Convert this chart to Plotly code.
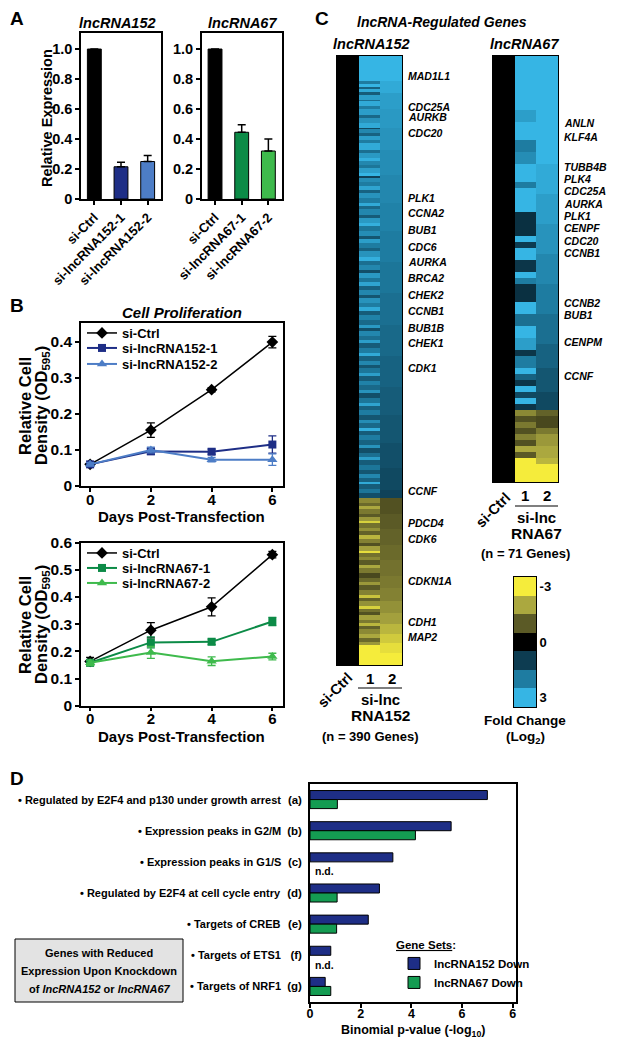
import plotly.graph_objects as go

# page body has an 8px margin, so the figure is 16px smaller than the window
PAD = 8
FW, FH = 608, 1032
FONT = "Liberation Sans, Arial, sans-serif"

# ---------------- data ----------------
a152_groups = ["si-Ctrl", "si-lncRNA152-1", "si-lncRNA152-2"]
a152_vals = [1.0, 0.215, 0.25]
a152_err = [0, 0.03, 0.04]
a67_groups = ["si-Ctrl", "si-lncRNA67-1", "si-lncRNA67-2"]
a67_vals = [1.0, 0.445, 0.32]
a67_err = [0, 0.05, 0.08]

days = [0, 2, 4, 6]
b152_ctrl = [0.06, 0.155, 0.267, 0.399]
b152_ctrl_err = [0.005, 0.02, 0.006, 0.016]
b152_1 = [0.06, 0.096, 0.095, 0.115]
b152_1_err = [0.005, 0.008, 0.007, 0.024]
b152_2 = [0.06, 0.10, 0.073, 0.073]
b152_2_err = [0.005, 0.008, 0.006, 0.016]

b67_ctrl = [0.163, 0.278, 0.364, 0.556]
b67_ctrl_err = [0.015, 0.028, 0.033, 0.012]
b67_1 = [0.158, 0.233, 0.235, 0.31]
b67_1_err = [0.01, 0.02, 0.01, 0.015]
b67_2 = [0.158, 0.196, 0.164, 0.181]
b67_2_err = [0.01, 0.022, 0.016, 0.012]

d_labels = ["\u2022 Regulated by E2F4 and p130 under growth arrest",
            "\u2022 Expression peaks in G2/M",
            "\u2022 Expression peaks in G1/S",
            "\u2022 Regulated by E2F4 at cell cycle entry",
            "\u2022 Targets of CREB",
            "\u2022 Targets of ETS1",
            "\u2022 Targets of NRF1"]
d_letters = ["(a)", "(b)", "(c)", "(d)", "(e)", "(f)", "(g)"]
d_152 = [7.0, 5.57, 3.27, 2.74, 2.3, 0.82, 0.6]
d_67 = [1.08, 4.16, None, 1.07, 1.05, None, 0.82]
d_ticks = [0, 2, 4, 6, 8]
d_ticktext = ["0", "2", "4", "6", "6"]

# heatmaps: log2 fold change, run-length (value, n genes), top to bottom
ctrl_fc = 0.0
l152_col1 = [(3.0, 16),
             (2.0, 2), (3.0, 2), (1.6, 1), (2.8, 2), (1.5, 2), (2.6, 3), (1.8, 1), (2.8, 3), (2.0, 2), (2.6, 4),
             (1.7, 2), (2.4, 3), (2.8, 3), (1.2, 1), (2.2, 2), (1.6, 2), (2.6, 3), (2.0, 2), (2.8, 4), (1.8, 2),
             (2.5, 3), (2.9, 2), (2.2, 3), (1.9, 2), (2.6, 3), (3.0, 2), (1.1, 1), (2.3, 3), (2.0, 2), (2.7, 3),
             (1.6, 2), (2.4, 3), (2.0, 3), (2.8, 2), (1.7, 2), (2.2, 4), (1.5, 2), (2.5, 3), (2.9, 2), (1.9, 3),
             (2.3, 3), (1.4, 2), (2.6, 3), (2.0, 3), (1.6, 2), (2.4, 4), (2.9, 2), (1.8, 3), (2.2, 3), (1.3, 2),
             (2.5, 3), (1.9, 3), (2.7, 2), (1.6, 3), (2.2, 3), (1.4, 2), (2.4, 3), (2.0, 3), (2.8, 2), (1.5, 3),
             (2.1, 3), (1.7, 3), (2.5, 2), (1.3, 2), (2.2, 3), (1.8, 3), (2.6, 2), (1.5, 3), (2.0, 3), (2.8, 2),
             (1.6, 3), (2.2, 3), (1.4, 2), (1.9, 3), (2.6, 2), (1.5, 3), (2.1, 3), (1.7, 3), (2.4, 2), (1.3, 3),
             (1.9, 3), (2.7, 2), (1.6, 3), (2.0, 3), (1.4, 3), (2.3, 2), (1.7, 3), (2.9, 2), (1.5, 3), (2.0, 3),
             (1.6, 3), (2.4, 2), (1.3, 3), (1.8, 3), (2.6, 2), (1.5, 3), (1.9, 3), (1.4, 3), (2.2, 2), (1.6, 3),
             (2.8, 1), (1.5, 3), (1.9, 3), (1.3, 3),
             (-1.6, 3), (-1.2, 2), (-2.0, 2), (-1.4, 3), (-1.0, 2), (-1.8, 3), (-2.6, 1), (-1.3, 3), (-1.7, 2), (-1.1, 3),
             (-2.2, 2), (-1.5, 3), (-0.9, 2), (-1.9, 3), (-2.8, 1), (-1.3, 3), (-1.6, 2), (-1.0, 3), (-2.0, 2), (-1.4, 3),
             (-0.8, 3), (-1.2, 3), (-1.8, 2), (-1.0, 3), (-1.5, 3), (-2.4, 2), (-1.1, 2), (-1.7, 3), (-2.6, 2), (-1.3, 2),
             (-0.9, 2), (-1.9, 3), (-1.4, 2), (-2.2, 2), (-1.1, 2), (-1.6, 3), (-2.0, 3), (-1.2, 2), (-1.8, 2),
             (-3.0, 13)]
l152_col2 = [(3.0, 16), (2.8, 8), (2.6, 10), (2.5, 12), (2.4, 14), (2.3, 16), (2.2, 18), (2.1, 18), (2.0, 20),
             (1.9, 20), (1.8, 20), (1.7, 20), (1.6, 20), (1.5, 18), (1.4, 18), (1.3, 16), (1.2, 14), (1.1, 5),
             (-0.9, 10), (-1.0, 10), (-1.1, 10), (-1.2, 10), (-1.3, 10), (-1.4, 8), (-1.5, 8), (-1.7, 8),
             (-1.9, 7), (-2.2, 6), (-2.5, 6), (-2.8, 6), (-3.0, 8)]
l67_col1 = [(3.0, 9), (2.6, 2), (3.0, 3), (2.0, 2), (2.3, 2), (3.0, 3), (2.0, 1), (3.0, 4), (0.8, 4), (3.0, 1),
            (1.0, 1), (3.0, 2), (0.9, 2), (3.0, 1), (2.0, 1), (0.8, 3), (3.0, 2), (1.8, 2), (3.0, 2), (2.6, 2),
            (0.9, 1), (2.0, 2), (3.0, 1), (1.6, 1), (0.9, 1), (3.0, 1), (1.2, 1), (3.0, 1), (0.9, 1),
            (-1.6, 1), (-0.9, 1), (-1.4, 1), (-0.9, 1), (-1.5, 1), (-0.9, 1), (-2.0, 1), (-1.0, 1), (-3.0, 4)]
l67_col2 = [(3.0, 18), (2.8, 5), (2.6, 5), (2.4, 5), (2.2, 5), (2.0, 5), (1.8, 5), (1.6, 4), (1.4, 4), (1.2, 3),
            (-1.1, 1), (-0.8, 2), (-1.4, 1), (-1.8, 2), (-2.0, 2), (-2.2, 1), (-3.0, 3)]
scale_vals = [-3, -2, -1, 0, 1, 2, 3]

l152_genes = ["MAD1L1", "CDC25A", "AURKB", "CDC20", "PLK1", "CCNA2", "BUB1", "CDC6", "AURKA", "BRCA2",
              "CHEK2", "CCNB1", "BUB1B", "CHEK1", "CDK1", "CCNF", "PDCD4", "CDK6", "CDKN1A", "CDH1", "MAP2"]
l152_gene_y = [76, 107, 117, 133, 198, 213, 230, 247, 262, 278, 295, 311, 328, 343, 368, 491, 523, 539, 581, 622, 637]
l67_genes = ["ANLN", "KLF4A", "TUBB4B", "PLK4", "CDC25A", "AURKA", "PLK1", "CENPF", "CDC20", "CCNB1",
             "CCNB2", "BUB1", "CENPM", "CCNF"]
l67_gene_y = [123, 137, 167, 179, 191.5, 204, 216, 228, 241, 253, 303, 315, 342, 376]


def expand(runs):
    out = []
    for v, n in runs:
        out += [v] * n
    return out


c1, c2 = expand(l152_col1), expand(l152_col2)
zL = [[ctrl_fc, a, b] for a, b in zip(c1, c2)]
r1, r2 = expand(l67_col1), expand(l67_col2)
zR = [[ctrl_fc, a, b] for a, b in zip(r1, r2)]

CS = [[0.0, "#f5ec3b"], [1 / 6, "#aba83f"], [2 / 6, "#5b5a26"], [0.5, "#000000"],
      [4 / 6, "#0d3c51"], [5 / 6, "#1e7ca1"], [1.0, "#36b5e4"]]

NAVY, LBLUE = "#1e2e86", "#4d7dc6"
DGREEN, LGREEN = "#0c8b47", "#3eba4c"


# positions below are given in window pixels
def X(px):
    return (px - PAD) / FW


def Y(py):
    return 1 - (py - PAD) / FH


fig = go.Figure()

# ---- A ----
for ax, groups, vals, err, cols in [("", a152_groups, a152_vals, a152_err, ["black", NAVY, LBLUE]),
                                    ("2", a67_groups, a67_vals, a67_err, ["black", DGREEN, LGREEN])]:
    fig.add_trace(go.Bar(x=groups, y=vals, width=0.52, offset=-0.26,
                         marker=dict(color=cols, line=dict(color="black", width=1)),
                         error_y=dict(type="data", array=err, arrayminus=[0] * 3, symmetric=False,
                                      color="black", thickness=1.5, width=4),
                         xaxis="x" + ax, yaxis="y" + ax, showlegend=False))

# ---- B ---- (one legend per entry so the rows can sit as tight as in the figure)
b_sets = [("3", [("si-Ctrl", b152_ctrl, b152_ctrl_err, "black", "diamond", 9, 1.5, "legend", 333),
                 ("si-lncRNA152-1", b152_1, b152_1_err, NAVY, "square", 8, 2, "legend4", 348),
                 ("si-lncRNA152-2", b152_2, b152_2_err, LBLUE, "triangle-up", 9, 2, "legend5", 364)]),
          ("4", [("si-Ctrl", b67_ctrl, b67_ctrl_err, "black", "diamond", 9, 1.5, "legend2", 553),
                 ("si-lncRNA67-1", b67_1, b67_1_err, DGREEN, "square", 8, 2, "legend6", 568),
                 ("si-lncRNA67-2", b67_2, b67_2_err, LGREEN, "triangle-up", 9, 2, "legend7", 583)])]
legends = {}
for ax, series in b_sets:
    for name, ys, es, col, sym, ms, lw, lg, ly in series:
        fig.add_trace(go.Scatter(x=days, y=ys, mode="lines+markers", name=name,
                                 line=dict(color=col, width=lw),
                                 marker=dict(symbol=sym, size=ms, color=col),
                                 error_y=dict(type="data", array=es, color=col, thickness=1.3, width=4),
                                 xaxis="x" + ax, yaxis="y" + ax, legend=lg))
        legends[lg] = ly

# ---- D ----
rows = list(range(len(d_labels)))
fig.add_trace(go.Bar(y=rows, x=d_152, orientation="h", width=0.29, offset=-0.29, name="lncRNA152 Down",
                     marker=dict(color=NAVY, line=dict(color="black", width=1)),
                     xaxis="x5", yaxis="y5", legend="legend3"))
fig.add_trace(go.Bar(y=rows, x=d_67, orientation="h", width=0.29, offset=0.0, name="lncRNA67 Down",
                     marker=dict(color="#149c52", line=dict(color="black", width=1)),
                     xaxis="x5", yaxis="y5", legend="legend3"))

# ---- C heatmaps ----
fig.add_trace(go.Heatmap(z=zL, x=[0, 1, 2], y=list(range(len(zL))), colorscale=CS, zmin=-3, zmax=3,
                         showscale=False, xaxis="x6", yaxis="y6", hoverinfo="skip"))
fig.add_trace(go.Heatmap(z=zR, x=[0, 1, 2], y=list(range(len(zR))), colorscale=CS, zmin=-3, zmax=3,
                         showscale=False, xaxis="x7", yaxis="y7", hoverinfo="skip"))
fig.add_trace(go.Heatmap(z=[[v] for v in scale_vals], x=[0], y=list(range(len(scale_vals))), colorscale=CS,
                         zmin=-3, zmax=3, showscale=False, xaxis="x8", yaxis="y8", hoverinfo="skip"))

box = dict(showline=True, linecolor="black", linewidth=1.5, mirror=True, showgrid=False, zeroline=False,
           ticks="outside", ticklen=4, tickwidth=1.5, tickcolor="black", automargin=False)


def tf(size):
    return dict(family=FONT, size=size, color="black", weight="bold")


plain = dict(showline=True, linecolor="black", linewidth=1, mirror=True, showgrid=False, zeroline=False,
             ticks="", showticklabels=False, automargin=False)

layout = dict(
    template="none",
    width=FW, height=FH, margin=dict(l=0, r=0, t=0, b=0, autoexpand=False),
    paper_bgcolor="white", plot_bgcolor="white",
    font=dict(family=FONT, size=12, color="black", weight="bold"), barmode="overlay",
    xaxis=dict(box, domain=[X(81), X(161)], anchor="y", tickangle=-45, tickfont=tf(13), range=[-0.5, 2.5]),
    yaxis=dict(box, domain=[Y(199), Y(33)], anchor="x", range=[0, 1.107], tickvals=[0, 0.2, 0.4, 0.6, 0.8, 1.0],
               ticktext=["0", "0.2", "0.4", "0.6", "0.8", "1.0"], tickfont=tf(14.5)),
    xaxis2=dict(box, domain=[X(201.7), X(281.7)], anchor="y2", tickangle=-45, tickfont=tf(13), range=[-0.5, 2.5]),
    yaxis2=dict(box, domain=[Y(199), Y(33)], anchor="x2", range=[0, 1.107], tickvals=[0, 0.2, 0.4, 0.6, 0.8, 1.0],
                ticktext=["0", "0.2", "0.4", "0.6", "0.8", "1.0"], tickfont=tf(14.5)),
    xaxis3=dict(box, domain=[X(81), X(283)], anchor="y3", range=[-0.3, 6.35], tickvals=days, tickfont=tf(15),
                ticklabelstandoff=-5),
    yaxis3=dict(box, domain=[Y(486), Y(323)], anchor="x3", range=[0, 0.452], tickvals=[0, 0.1, 0.2, 0.3, 0.4],
                ticktext=["0", "0.1", "0.2", "0.3", "0.4"], tickfont=tf(15.5)),
    xaxis4=dict(box, domain=[X(81), X(283)], anchor="y4", range=[-0.3, 6.35], tickvals=days, tickfont=tf(15),
                ticklabelstandoff=-5),
    yaxis4=dict(box, domain=[Y(705.7), Y(542.7)], anchor="x4", range=[0, 0.6],
                tickvals=[0, 0.1, 0.2, 0.3, 0.4, 0.5, 0.6],
                ticktext=["0", "0.1", "0.2", "0.3", "0.4", "0.5", "0.6"], tickfont=tf(15.5)),
    xaxis5=dict(box, domain=[X(310), X(516)], anchor="y5", range=[0, 8.13], tickvals=d_ticks,
                ticktext=d_ticktext, tickfont=tf(12.5), ticklabelstandoff=-5),
    yaxis5=dict(box, domain=[Y(1002), Y(784)], anchor="x5", range=[6.5, -0.5], tickvals=rows,
                ticktext=d_letters, ticks="", tickfont=tf(11.5), ticklabelstandoff=4),
    xaxis6=dict(plain, domain=[X(337), X(402)], anchor="y6", range=[-0.5, 2.5]),
    yaxis6=dict(plain, domain=[Y(665), Y(56)], anchor="x6", range=[len(zL) - 0.5, -0.5]),
    xaxis7=dict(plain, domain=[X(493), X(558)], anchor="y7", range=[-0.5, 2.5]),
    yaxis7=dict(plain, domain=[Y(482), Y(56)], anchor="x7", range=[len(zR) - 0.5, -0.5]),
    xaxis8=dict(plain, domain=[X(514), X(536)], anchor="y8", range=[-0.5, 0.5]),
    yaxis8=dict(plain, domain=[Y(707), Y(577)], anchor="x8", range=[6.5, -0.5], side="right",
                showticklabels=True, tickvals=[0, 3, 6], ticktext=["-3", "0", "3"], tickfont=tf(13)),
    legend3=dict(x=X(394), y=Y(934), xanchor="left", yanchor="top", bgcolor="rgba(0,0,0,0)",
                 font=tf(11.5), itemwidth=30, title=dict(text="<u>Gene Sets</u>:", font=tf(11.5))),
)
for lg, ly in legends.items():
    layout[lg] = dict(x=X(82), y=Y(ly), xanchor="left", yanchor="middle", bgcolor="rgba(0,0,0,0)",
                      font=tf(13), itemwidth=30)
fig.update_layout(**layout)

ann = []


def txt(x, y, s, size, anchor="center", angle=0, italic=False, yref="paper", xref="paper"):
    ann.append(dict(x=X(x) if xref == "paper" else x, y=Y(y) if yref == "paper" else y,
                    xref=xref, yref=yref, text=s, showarrow=False, xanchor=anchor, yanchor="middle",
                    textangle=angle,
                    font=dict(family=FONT, size=size, color="black", weight="bold",
                              style="italic" if italic else "normal")))


# panel letters
txt(17, 18, "A", 19)
txt(17, 305, "B", 19)
txt(322, 18, "C", 19)
txt(17, 778, "D", 19)

# A
txt(117, 23, "lncRNA152", 14.5, italic=True)
txt(242, 23, "lncRNA67", 14.5, italic=True)
txt(47, 118, "Relative Expression", 14.5, angle=-90)

# B
txt(182, 312, "Cell Proliferation", 15, italic=True)
for cy in (406, 625):
    txt(25, cy, "Relative Cell", 16.5, angle=-90)
    txt(42, cy, "Density (OD<sub>595</sub>)", 16.5, angle=-90)
txt(182, 516, "Days Post-Transfection", 15)
txt(182, 736, "Days Post-Transfection", 15)

# C
txt(442, 22, "lncRNA-Regulated Genes", 14, italic=True)
txt(371, 44, "lncRNA152", 14.5, italic=True)
txt(524, 44, "lncRNA67", 14.5, italic=True)
for g, gy in zip(l152_genes, l152_gene_y):
    txt(406, gy, g, 10.5, anchor="left", italic=True)
for g, gy in zip(l67_genes, l67_gene_y):
    txt(562, gy, g, 10.5, anchor="left", italic=True)

txt(335, 690, "si-Ctrl", 14.5, angle=-45)
txt(369.5, 678, "1", 15)
txt(391.5, 678, "2", 15)
txt(380, 699, "si-lnc", 15)
txt(380, 715, "RNA152", 15.5)
txt(370, 736, "(n = 390 Genes)", 13)

txt(493, 510, "si-Ctrl", 14.5, angle=-45)
txt(525, 496, "1", 15)
txt(547, 496, "2", 15)
txt(536.5, 517, "si-lnc", 15)
txt(536.5, 533, "RNA67", 15.5)
txt(525, 553, "(n = 71 Genes)", 13)

txt(525, 720, "Fold Change", 13.5)
txt(525, 737, "(Log<sub>2</sub>)", 13.5)

# D
for i, lab in enumerate(d_labels):
    txt(283, i, lab, 11, anchor="right", yref="y5")
for i, v in enumerate(d_67):
    if v is None:
        ann.append(dict(x=0.12, y=i + 0.3, xref="x5", yref="y5", text="n.d.", showarrow=False,
                        xanchor="left", yanchor="middle", font=tf(10.5)))
txt(413, 1031, "Binomial p-value (-log<sub>10</sub>)", 12.5)
txt(99, 953, "Genes with Reduced", 11)
txt(99, 971, "Expression Upon Knockdown", 11)
txt(99, 989, "of <i>lncRNA152</i> or <i>lncRNA67</i>", 11)

fig.update_layout(annotations=ann, shapes=[
    dict(type="rect", xref="paper", yref="paper", x0=X(15), x1=X(183), y0=Y(1002), y1=Y(939),
         fillcolor="#e3e3e3", line=dict(color="black", width=1), layer="below"),
    dict(type="line", xref="paper", yref="paper", x0=X(358), x1=X(402), y0=Y(688), y1=Y(688),
         line=dict(color="black", width=1.2)),
    dict(type="line", xref="paper", yref="paper", x0=X(515), x1=X(558), y0=Y(506), y1=Y(506),
         line=dict(color="black", width=1.2)),
])

fig.write_html("out.html")
